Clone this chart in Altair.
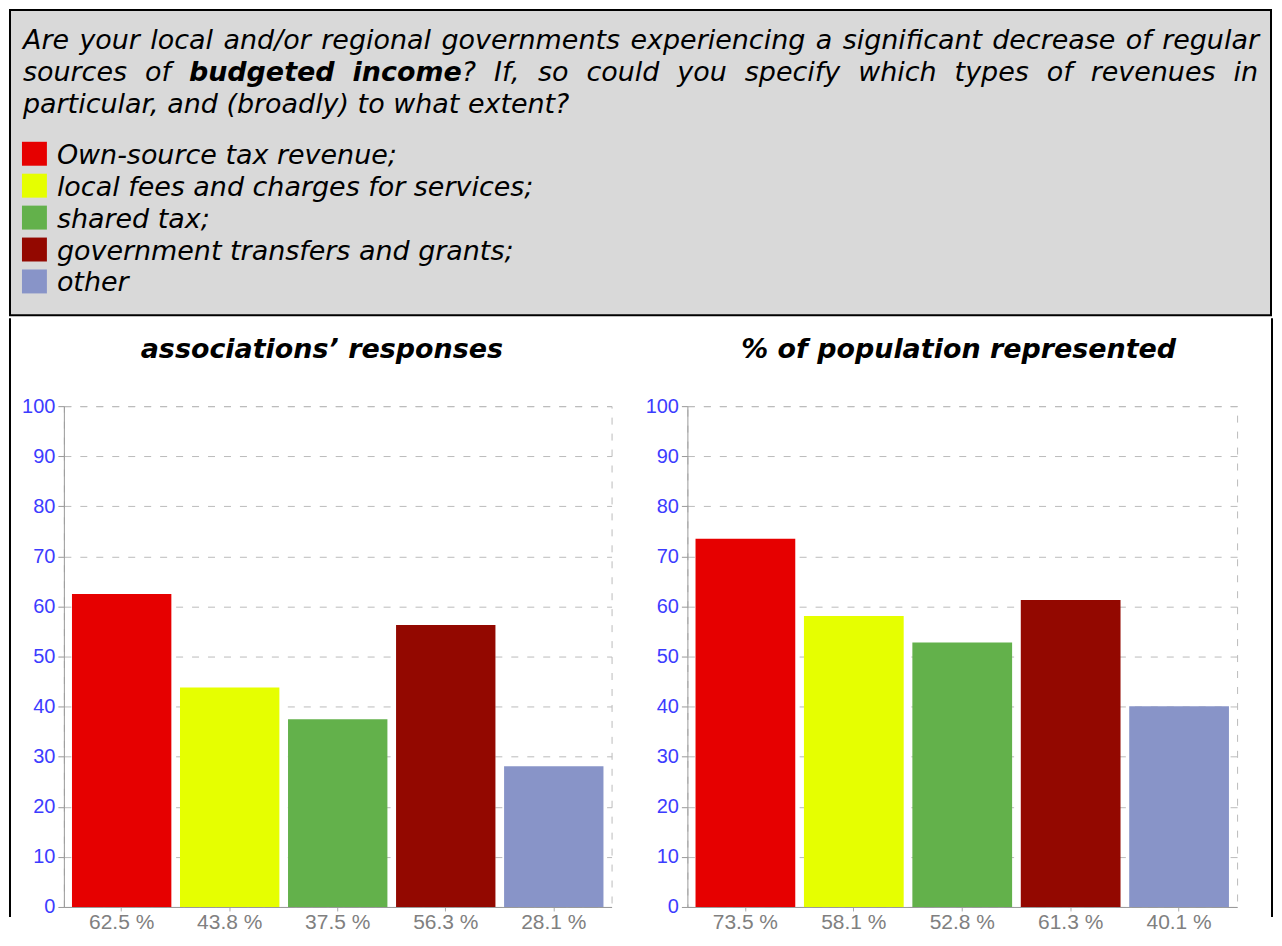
import altair as alt
import pandas as pd

# ---------------- data ----------------
categories = [
    "Own-source tax revenue;",
    "local fees and charges for services;",
    "shared tax;",
    "government transfers and grants;",
    "other",
]
colors = ["#e60000", "#e6ff00", "#63b14b", "#930800", "#8894c8"]
assoc_values = [62.5, 43.8, 37.5, 56.3, 28.1]
pop_values = [73.5, 58.1, 52.8, 61.3, 40.1]
panel_titles = ["associations\u2019 responses", "% of population represented"]
y_ticks = list(range(0, 101, 10))

# question text: justified lines are given as word units of (text, bold) pieces
line1_units = [[(w, False)] for w in
               "Are your local and/or regional governments experiencing a significant decrease of regular".split()]
line2_units = [[("sources", False)], [("of", False)], [("budgeted", True)],
               [("income", True), ("?", False)]] + \
              [[(w, False)] for w in "If, so could you specify which types of revenues in".split()]
line3_text = "particular, and (broadly) to what extent?"

FONT = "DejaVu Sans"
AXFONT = "Liberation Sans"
FS = 27
OX, OY = 63, 9              # page position of the shared layout origin
HH = 306                    # header box height
RIGHT = 1273                # page x of the right frame line (page must not overflow)

# approximate DejaVu Sans advance widths (em) used to justify the lines
W_REG = {" ": .318, "a": .613, "b": .635, "c": .550, "d": .635, "e": .615, "f": .352,
         "g": .635, "h": .634, "i": .278, "l": .278, "m": .974, "n": .634, "o": .612,
         "p": .635, "r": .411, "s": .521, "t": .392, "u": .634, "v": .592, "w": .818,
         "x": .592, "y": .592, "A": .684, "I": .295, "?": .531, ",": .318, "/": .337}
W_BOLD = {"b": .716, "u": .712, "d": .716, "g": .716, "e": .678, "t": .478, "i": .343,
          "n": .712, "c": .593, "o": .687, "m": 1.042}


def piece_w(text, bold):
    tab = W_BOLD if bold else W_REG
    return sum(tab.get(ch, W_REG.get(ch, 0.6)) for ch in text) * FS


def justify(units, x0, x1, y):
    widths = [sum(piece_w(t, b) for t, b in u) for u in units]
    gap = (x1 - x0 - sum(widths)) / (len(units) - 1)
    out, x = [], x0
    for u, uw in zip(units, widths):
        px = x
        for t, b in u:
            out.append({"w": t, "x": px - OX, "y": y - OY, "b": b})
            px += piece_w(t, b)
        x += uw + gap
    return out


words = justify(line1_units, 22, 1261, 48) + justify(line2_units, 22, 1260, 80)
words.append({"w": line3_text, "x": 22 - OX, "y": 112 - OY, "b": False})
wdf = pd.DataFrame(words)

bg = alt.Chart(pd.DataFrame({"a": [0]})).mark_rect(
    fill="#d9d9d9", stroke="black", strokeWidth=2
).encode(x=alt.value(9 - OX), x2=alt.value(RIGHT - OX),
         y=alt.value(0), y2=alt.value(HH))

txt_norm = alt.Chart(wdf[~wdf.b]).mark_text(
    align="left", baseline="alphabetic", font=FONT, fontSize=FS,
    fontStyle="italic", color="black"
).encode(x=alt.X("x:Q", scale=None), y=alt.Y("y:Q", scale=None), text="w:N")

txt_bold = alt.Chart(wdf[wdf.b]).mark_text(
    align="left", baseline="alphabetic", font=FONT, fontSize=FS,
    fontStyle="italic", fontWeight="bold", color="black"
).encode(x=alt.X("x:Q", scale=None), y=alt.Y("y:Q", scale=None), text="w:N")

leg_df = pd.DataFrame({"cat": categories, "idx": list(range(len(categories)))})
color_scale = alt.Scale(domain=categories, range=colors)

leg_sq = alt.Chart(leg_df).transform_calculate(
    y0=f"{141 - OY} + 32*datum.idx", y1=f"{165 - OY} + 32*datum.idx"
).mark_rect().encode(
    x=alt.value(21 - OX), x2=alt.value(46 - OX),
    y=alt.Y("y0:Q", scale=None), y2="y1:Q",
    color=alt.Color("cat:N", scale=color_scale, legend=None),
)
leg_txt = alt.Chart(leg_df).transform_calculate(
    yb=f"{163 - OY} + 32*datum.idx"
).mark_text(
    align="left", baseline="alphabetic", font=FONT, fontSize=FS,
    fontStyle="italic", color="black"
).encode(x=alt.value(56 - OX), y=alt.Y("yb:Q", scale=None), text="cat:N")

header = alt.layer(bg, txt_norm, txt_bold, leg_sq, leg_txt).properties(
    width=1190, height=HH
)

# ---------------- bar panels ----------------
PH = 502


def panel(values, title, width, title_dx, border_x):
    df = pd.DataFrame({
        "cat": categories,
        "value": values,
        "label": [f"{v} %" for v in values],
    })
    bars = alt.Chart(df).mark_bar().encode(
        x=alt.X("label:N", sort=None,
                scale=alt.Scale(paddingInner=0.08, paddingOuter=0.075),
                axis=alt.Axis(title=None, labelAngle=0, labelColor="#808080",
                              labelFont=AXFONT, labelFontSize=21, tickColor="#aaaaaa",
                              tickSize=4, domainColor="#999999", grid=False,
                              labelPadding=1)),
        y=alt.Y("value:Q", scale=alt.Scale(domain=[0, 100], nice=False),
                axis=alt.Axis(title=None, values=y_ticks, labelColor="#3c3cff",
                              labelFont=AXFONT, labelFontSize=20, tickColor="#999999",
                              tickSize=6, labelPadding=3, domainColor="#999999",
                              gridColor="#bbbbbb", gridDash=[7, 9])),
        color=alt.Color("cat:N", scale=color_scale, legend=None),
    )
    ttl = alt.Chart(pd.DataFrame({"t": [title]})).mark_text(
        align="left", baseline="alphabetic", font=FONT, fontSize=FS,
        fontStyle="italic", fontWeight="bold", color="black"
    ).encode(x=alt.value(title_dx), y=alt.value(-48), text="t:N")
    border = alt.Chart(pd.DataFrame({"a": [0]})).mark_rule(
        color="black", strokeWidth=2
    ).encode(x=alt.value(border_x), y=alt.value(-88), y2=alt.value(512))
    return alt.layer(bars, ttl, border).properties(
        width=width, height=PH,
        view=alt.ViewBackground(stroke="#bbbbbb", strokeDash=[7, 9], strokeWidth=1),
    )


c1 = panel(assoc_values, panel_titles[0], 549, 77, -54)
c2 = panel(pop_values, panel_titles[1], 551, 54, RIGHT - 687)

row = alt.hconcat(c1, c2, spacing=32)
chart = alt.vconcat(header, row, spacing=0).properties(
    padding=0, background="white"
).configure_view(strokeWidth=0)

chart.save("out.html", embed_options={"renderer": "svg", "actions": False})
